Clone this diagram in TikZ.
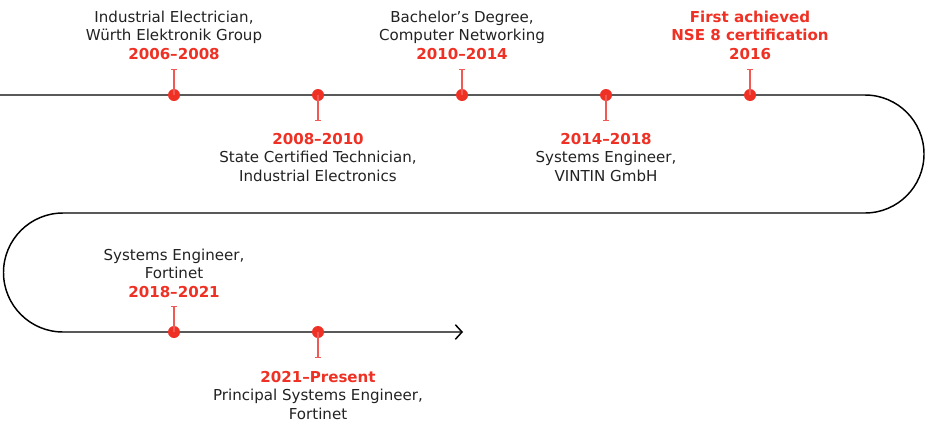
\documentclass[tikz,border=0pt]{standalone}
\usepackage{fontspec}
\setmainfont{DejaVu Sans}
\usetikzlibrary{arrows.meta}
\definecolor{fred}{HTML}{EE3124}
\definecolor{ftick}{HTML}{F05A55}
\definecolor{ftext}{HTML}{222222}
\begin{document}
\begin{tikzpicture}[x=0.75pt,y=0.75pt,
  dot/.style={circle,fill=fred,inner sep=0pt,minimum size=9pt},
  tickline/.style={draw=ftick,line width=1pt,-{Bar[width=5pt,line width=1pt]}},
  lbl/.style={align=center,inner sep=0pt,text=ftext,font=\fontsize{11.3}{13.9}\selectfont},
  mainline/.style={draw=black,line width=1.1pt}]
\useasboundingbox (0,0) rectangle (927,-422);
% main path
\coordinate (start) at (0,-95);
\coordinate (endarrow) at (463,-332);
\draw[mainline,-{Straight Barb[length=5pt,width=11pt,line width=1.1pt]}]
  (start) -- (865,-95) arc (90:-90:59) -- (63,-213) arc (90:270:59.5) -- (endarrow);
% dots
\node[dot] (d1) at (174,-95) {};
\node[dot] (d2) at (318,-95) {};
\node[dot] (d3) at (462,-95) {};
\node[dot] (d4) at (606,-95) {};
\node[dot] (d5) at (750,-95) {};
\node[dot] (d6) at (174,-332) {};
\node[dot] (d7) at (318,-332) {};
% tick ends
\coordinate (t1) at (174,-69);
\coordinate (t2) at (318,-121);
\coordinate (t3) at (462,-69);
\coordinate (t4) at (606,-121);
\coordinate (t5) at (750,-69);
\coordinate (t6) at (174,-306);
\coordinate (t7) at (318,-358);
\foreach \i in {1,...,7} {\draw[tickline] (d\i.center) -- (t\i);}
% labels
\node[lbl,anchor=south] (l1) at (174,-60) {Industrial Electrician,\\Würth Elektronik Group\\{\color{fred}\bfseries 2006–2008}};
\node[lbl,anchor=north] (l2) at (318,-133) {{\color{fred}\bfseries 2008–2010}\\State Certified Technician,\\Industrial Electronics};
\node[lbl,anchor=south] (l3) at (462,-60) {Bachelor’s Degree,\\Computer Networking\\{\color{fred}\bfseries 2010–2014}};
\node[lbl,anchor=north] (l4) at (606,-133) {{\color{fred}\bfseries 2014–2018}\\Systems Engineer,\\VINTIN GmbH};
\node[lbl,anchor=south,text=fred,font=\fontsize{11.3}{13.9}\selectfont\bfseries] (l5) at (750,-60) {First achieved\\NSE 8 certification\\2016};
\node[lbl,anchor=south] (l6) at (174,-298) {Systems Engineer,\\Fortinet\\{\color{fred}\bfseries 2018–2021}};
\node[lbl,anchor=north] (l7) at (318,-371) {{\color{fred}\bfseries 2021–Present}\\Principal Systems Engineer,\\Fortinet};
\end{tikzpicture}
\end{document}
